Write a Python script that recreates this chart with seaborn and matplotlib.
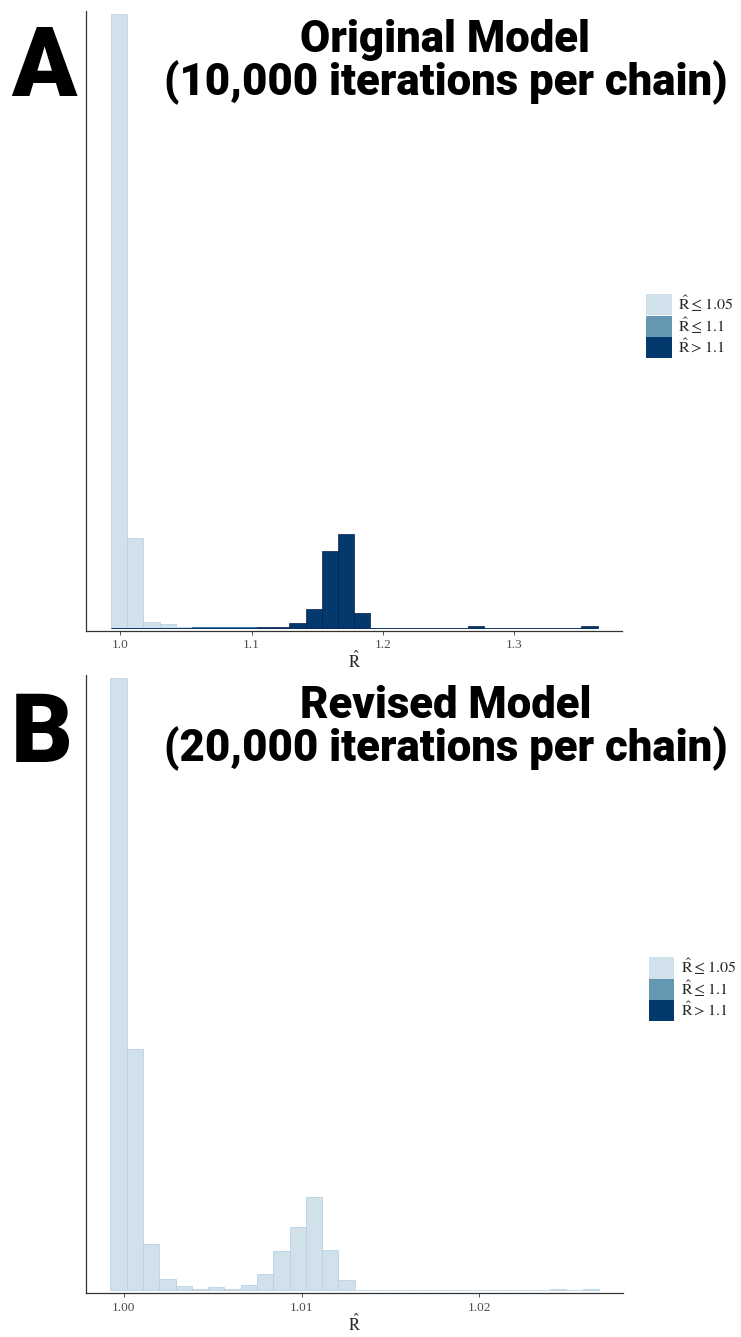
import numpy as np
import pandas as pd
import seaborn as sns
import matplotlib.pyplot as plt
from matplotlib.patches import Patch

# binned R-hat counts, 30 bins per panel
a_start = 0.9928
a_width = 0.01235
a_counts = [616, 90, 6, 3.3, 1, 0.6, 0.6, 0.6, 0.6, 1, 1, 4.7, 19, 77, 94, 14.7,
            0, 0, 0, 0, 0, 0, 1.5, 0, 0, 0, 0, 0, 0, 1.5]
a_rating = ['light'] * 5 + ['mid'] * 4 + ['dark'] * 21
a_ticks = [1.0, 1.1, 1.2, 1.3]
a_ticklabels = ['1.0', '1.1', '1.2', '1.3']

b_start = 0.99924
b_width = 0.000916
b_counts = [614, 242, 46.7, 11, 4, 1.7, 3, 1.7, 5.7, 16, 39, 63.7, 93.7, 40.7, 10.3,
            0, 0, 0, 0, 0, 0, 0, 0, 0, 0, 0, 0, 1.7, 0, 1.7]
b_rating = ['light'] * 30
b_ticks = [1.00, 1.01, 1.02]
b_ticklabels = ['1.00', '1.01', '1.02']

groups = ['light', 'mid', 'dark']
legend_labels = [r'$\hat{\mathrm{R}} \leq 1.05$', r'$\hat{\mathrm{R}} \leq 1.1$',
                 r'$\hat{\mathrm{R}} > 1.1$']
fills = {'light': '#d1e1ec', 'mid': '#6497b1', 'dark': '#03396c'}
lines = {'light': '#b3cde0', 'mid': '#005b96', 'dark': '#011f4b'}

sns.set_theme(style='white')
plt.rcParams['font.family'] = ['Liberation Serif', 'DejaVu Serif']
plt.rcParams['mathtext.fontset'] = 'stix'

fig = plt.figure(figsize=(7.41, 13.37), dpi=100)
ax_a = fig.add_axes([0.1167, 0.5283, 0.7227, 0.4635])
ax_b = fig.add_axes([0.1161, 0.0327, 0.7251, 0.4625])


def rhat_hist(ax, start, width, counts, rating, ticks, ticklabels, legx):
    n = len(counts)
    edges = start + width * np.arange(n + 1)
    df = pd.DataFrame({'rhat': edges[:-1] + width / 2, 'n': counts, 'rating': rating})
    present = [g for g in groups if (df['rating'] == g).any()]
    for g in present:
        df['w'] = np.where(df['rating'] == g, df['n'], 0.0)
        sns.histplot(data=df, x='rhat', weights='w', bins=list(edges), ax=ax, color=fills[g],
                     edgecolor=lines[g], linewidth=0.5, alpha=1)
    span = edges[-1] - edges[0]
    ax.set_xlim(edges[0] - 0.05 * span, edges[-1] + 0.05 * span)
    top = max(counts)
    ax.set_ylim(-0.005 * top, 1.005 * top)
    ax.set_yticks([])
    ax.set_ylabel('')
    ax.set_xticks(ticks)
    ax.set_xticklabels(ticklabels)
    ax.tick_params(axis='x', bottom=True, length=3, width=0.6, color='#333333',
                   labelsize=9.5, labelcolor='#4d4d4d', pad=3)
    ax.set_xlabel(r'$\hat{\mathrm{R}}$', fontsize=12, labelpad=0)
    sns.despine(ax=ax)
    for s in ['left', 'bottom']:
        ax.spines[s].set_color('#333333')
        ax.spines[s].set_linewidth(0.9)
    handles = [Patch(facecolor=fills[g], edgecolor='none') for g in groups]
    ax.legend(handles, legend_labels, loc='center left', bbox_to_anchor=(legx, 0.492),
              frameon=False, borderpad=0, borderaxespad=0, labelspacing=0,
              handlelength=1.6, handleheight=1.65, handletextpad=0.4, fontsize=11.5)


rhat_hist(ax_a, a_start, a_width, a_counts, a_rating, a_ticks, a_ticklabels, 1.045)
rhat_hist(ax_b, b_start, b_width, b_counts, b_rating, b_ticks, b_ticklabels, 1.047)

H = 1337
title_font = dict(family='Roboto', fontweight='black', color='black')
fig.text(0.0145, 1 - 96 / H, 'A', fontsize=69, ha='left', va='baseline', **title_font)
fig.text(0.601, 1 - 52 / H, 'Original Model', fontsize=31.5, ha='center', va='baseline', **title_font)
fig.text(0.601, 1 - 95 / H, '(10,000 iterations per chain)', fontsize=31.5, ha='center',
         va='baseline', **title_font)
fig.text(0.0145, 1 - 762 / H, 'B', fontsize=69, ha='left', va='baseline', **title_font)
fig.text(0.601, 1 - 718 / H, 'Revised Model', fontsize=31.5, ha='center', va='baseline', **title_font)
fig.text(0.601, 1 - 761 / H, '(20,000 iterations per chain)', fontsize=31.5, ha='center',
         va='baseline', **title_font)

fig.savefig('out.png', dpi=100)
